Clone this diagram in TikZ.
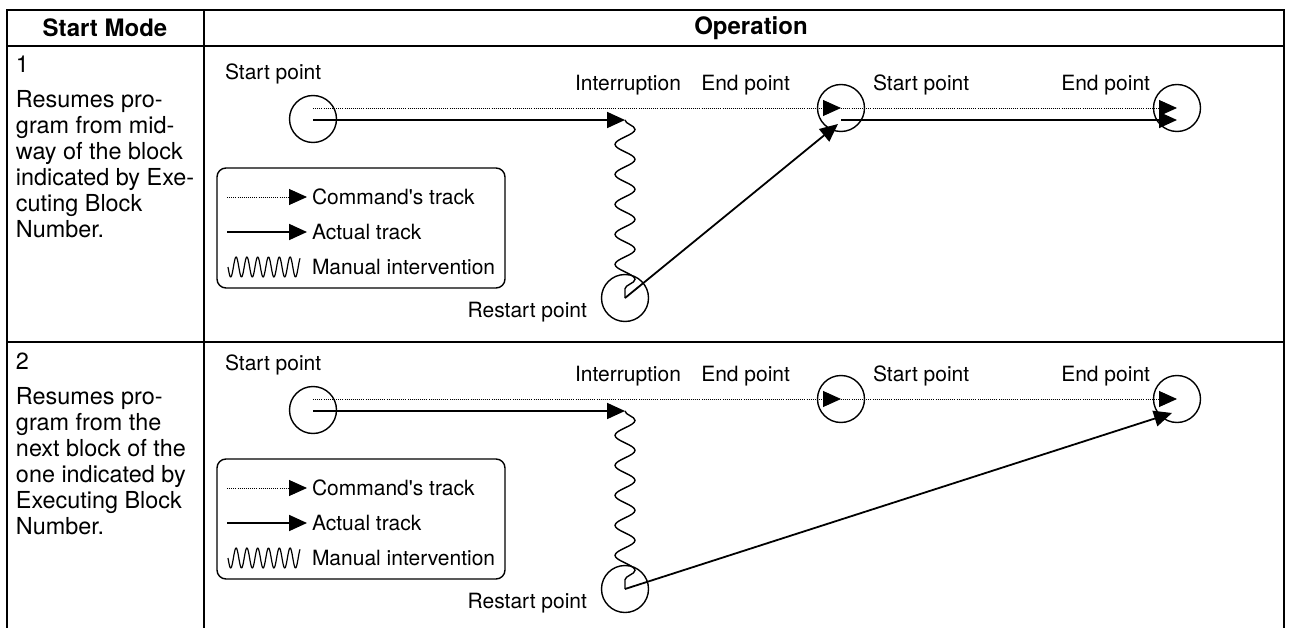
\documentclass[tikz,border=0pt]{standalone}
\usepackage{fontspec}
\setmainfont{TeX Gyre Heros}
\usetikzlibrary{arrows.meta,decorations.pathmorphing}
\begin{document}
\begin{tikzpicture}[x=1pt,y=-1pt,
  tbl/.style={line width=2.5pt},
  txt/.style={font=\fontsize{21}{26}\selectfont, inner sep=0pt, outer sep=0pt},
  coltxt/.style={font=\fontsize{23.4}{26}\selectfont, inner sep=0pt, outer sep=0pt, align=left, anchor=base west},
  hdr/.style={font=\bfseries\fontsize{24}{28}\selectfont, inner sep=0pt},
  ptcirc/.style={circle, draw, line width=1.4pt, minimum size=47pt, inner sep=0pt},
  bigtip/.style={-{Triangle[length=18pt,width=16pt]}},
  cmdtrack/.style={bigtip, line width=0.9pt, dash pattern=on 0.9pt off 1.2pt},
  acttrack/.style={bigtip, line width=1.8pt},
  manualwave/.style={line width=1.4pt, decorate, decoration={snake, segment length=30pt, amplitude=10pt}},
  legbox/.style={draw, line width=1.4pt, rounded corners=9pt, minimum width=288pt, minimum height=120pt, inner sep=0pt},
]
\useasboundingbox (0,0) rectangle (1292,628);
% table
\draw[tbl] (7,628) -- (7,10) -- (1284,10) -- (1284,628);
\draw[tbl] (7,46) -- (1284,46);
\draw[tbl] (7,342) -- (1284,342);
\draw[tbl] (204,10) -- (204,628);
\node[hdr] (hmode) at (105,28) {Start Mode};
\node[hdr] (hop) at (751,28) {Operation};
% left column (base anchor = baseline of last line)
\node[coltxt] (n1) at (16,73) {1};
\node[coltxt] (d1) at (16,238) {Resumes pro-\\gram from mid-\\way of the block\\indicated by Exe-\\cuting Block\\Number.};
\node[coltxt] (n2) at (16,369) {2};
\node[coltxt] (d2) at (16,534) {Resumes pro-\\gram from the\\next block of the\\one indicated by\\Executing Block\\Number.};
% common diagram parts
\foreach \r/\ry in {1/0, 2/291} {
  \node[txt, anchor=west] (sla\r) at (225,74+\ry) {Start point};
  \node[ptcirc] (s\r) at (313,119+\ry) {};
  \node[txt] (il\r) at (628,85+\ry) {Interruption};
  \node[txt, anchor=east] (ela\r) at (790,85+\ry) {End point};
  \node[ptcirc] (e\r) at (841,108+\ry) {};
  \node[txt, anchor=west] (slb\r) at (873,85+\ry) {Start point};
  \node[txt, anchor=east] (elb\r) at (1150,85+\ry) {End point};
  \node[ptcirc] (f\r) at (1177,108+\ry) {};
  \node[ptcirc] (r\r) at (625,298+\ry) {};
  \node[txt, anchor=east] (rl\r) at (587,312+\ry) {Restart point};
  \coordinate (cs\r) at (313,108+\ry);
  \coordinate (as\r) at (313,120+\ry);
  \coordinate (ai\r) at (625,120+\ry);
  \draw[cmdtrack] (cs\r) -- (e\r.center);
  \draw[cmdtrack] (e\r.center) -- (f\r.center);
  \draw[acttrack] (as\r) -- (ai\r);
  \draw[manualwave] (ai\r) -- (r\r.center);
  % legend
  \node[legbox] (leg\r) at (361,228+\ry) {};
  \coordinate (lca\r) at (227,197+\ry);
  \coordinate (lcb\r) at (307,197+\ry);
  \coordinate (laa\r) at (227,232+\ry);
  \coordinate (lab\r) at (307,232+\ry);
  \draw[cmdtrack] (lca\r) -- (lcb\r);
  \draw[acttrack] (laa\r) -- (lab\r);
  \node[txt, anchor=west] (ltc\r) at (312,197+\ry) {Command\textquotesingle s track};
  \node[txt, anchor=west] (lta\r) at (312,232+\ry) {Actual track};
  \node[txt, anchor=west] (ltm\r) at (312,267+\ry) {Manual intervention};
  \draw[line width=1.2pt, line join=round] plot[domain=0:72, samples=145] ({228+\x}, {267+\ry+10*sin(\x*33.33)});
}
% row 1 specific
\coordinate (ae1) at (841,120);
\coordinate (af1) at (1177,120);
\coordinate (ed1) at (838,124);
\draw[acttrack] (ae1) -- (af1);
\draw[acttrack] (r1.center) -- (ed1);
% row 2 specific
\coordinate (fd2) at (1172,413);
\draw[acttrack] (r2.center) -- (fd2);
\end{tikzpicture}
\end{document}
